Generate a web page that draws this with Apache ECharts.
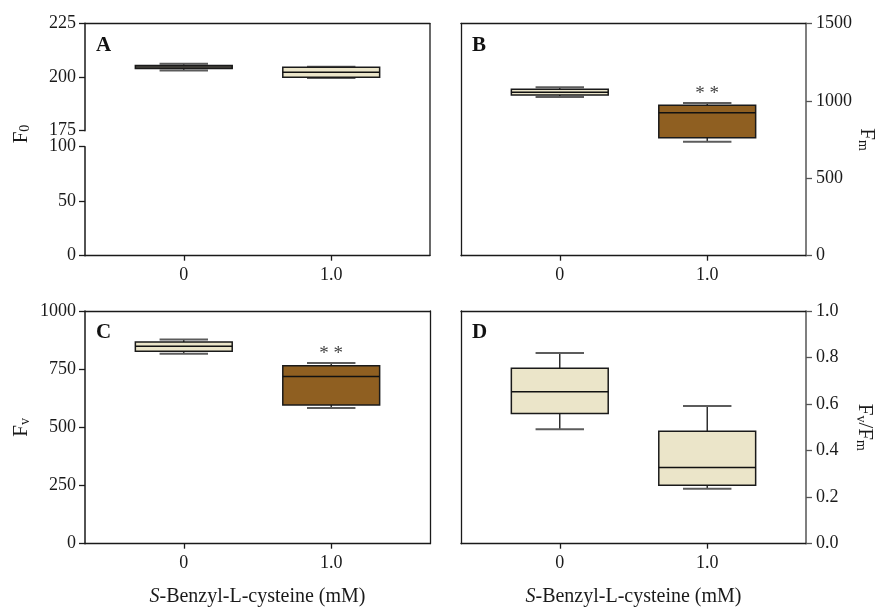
<!DOCTYPE html>
<html>
<head>
<meta charset="utf-8">
<script src="https://cdn.jsdelivr.net/npm/echarts@6/dist/echarts.min.js"></script>
<style>
html,body{margin:0;padding:0;background:#fff;}
#chart{width:885px;height:610px;}
</style>
</head>
<body>
<div id="chart"></div>
<script>
// ---------------- data ----------------
const xPositions = [0, 1];
const xTickLabels = ['0', '1.0'];

// Panel A: F0
const f0Min    = [203.0, 199.5];
const f0Q1     = [203.9, 199.9];
const f0Median = [204.7, 202.2];
const f0Q3     = [205.4, 204.5];
const f0Max    = [206.2, 204.8];
const f0Sig    = ['', ''];

// Panel B: Fm
const fmMin    = [1024, 736];
const fmQ1     = [1037, 762];
const fmMedian = [1055, 923];
const fmQ3     = [1074, 971];
const fmMax    = [1087, 986];
const fmSig    = ['', '* *'];

// Panel C: Fv
const fvMin    = [816, 583];
const fvQ1     = [827, 596];
const fvMedian = [848, 719];
const fvQ3     = [867, 765];
const fvMax    = [878, 776];
const fvSig    = ['', '* *'];

// Panel D: Fv/Fm
const ratioMin    = [0.492, 0.236];
const ratioQ1     = [0.560, 0.251];
const ratioMedian = [0.653, 0.327];
const ratioQ3     = [0.754, 0.483];
const ratioMax    = [0.820, 0.592];
const ratioSig    = ['', ''];

const xTitle = '{i|S}-Benzyl-L-cysteine (mM)';

// ---------------- styles ----------------
const BEIGE = '#EBE5C9';
const BROWN = '#8F5F21';
const f0Fill = [BEIGE, BEIGE];
const fmFill = [BEIGE, BROWN];
const fvFill = [BEIGE, BROWN];
const ratioFill = [BEIGE, BEIGE];
const FONT = 'Liberation Serif';
const BOX_W = 0.657;
const X_MIN = -0.67, X_MAX = 1.67;

function rows(mn, q1, md, q3, mx) {
  return xPositions.map((x, i) => [x, mn[i], q1[i], md[i], q3[i], mx[i]]);
}

function makeRender(fills, sig) {
  return function (params, api) {
    const i = params.dataIndex;
    const x = api.value(0);
    const w = api.size([BOX_W, 0])[0];
    const c = api.coord([x, api.value(3)]);
    const cx = c[0];
    const yMin = api.coord([x, api.value(1)])[1];
    const yQ1 = api.coord([x, api.value(2)])[1];
    const yMed = c[1];
    const yQ3 = api.coord([x, api.value(4)])[1];
    const yMax = api.coord([x, api.value(5)])[1];
    const L = cx - w / 2, capL = cx - w / 4, capR = cx + w / 4;
    const children = [
      {type: 'line', shape: {x1: cx, y1: yMax, x2: cx, y2: yQ3}, style: {stroke: '#111', lineWidth: 1.3}},
      {type: 'line', shape: {x1: cx, y1: yQ1, x2: cx, y2: yMin}, style: {stroke: '#111', lineWidth: 1.3}},
      {type: 'line', shape: {x1: capL, y1: yMax, x2: capR, y2: yMax}, style: {stroke: '#5c5c5c', lineWidth: 2}},
      {type: 'line', shape: {x1: capL, y1: yMin, x2: capR, y2: yMin}, style: {stroke: '#5c5c5c', lineWidth: 2}},
      {type: 'rect', shape: {x: L, y: yQ3, width: w, height: Math.max(yQ1 - yQ3, 1)},
        style: {fill: fills[i], stroke: '#1a1a1a', lineWidth: 1.5}},
      {type: 'line', shape: {x1: L, y1: yMed, x2: L + w, y2: yMed}, style: {stroke: '#111', lineWidth: 1.5}}
    ];
    if (sig[i]) {
      children.push({type: 'text', x: cx, y: yMax - 9,
        style: {text: sig[i], fill: '#444', font: '19px ' + FONT, align: 'center', verticalAlign: 'middle'}});
    }
    return {type: 'group', children};
  };
}

const labelStyle = {fontFamily: FONT, fontSize: 18, color: '#1a1a1a'};
const subRich = {
  sub: {fontFamily: FONT, fontSize: 14, color: '#1a1a1a', verticalAlign: 'bottom', padding: [8, 0, 0, 0]}
};

function xAxisMain(gridIndex, withName) {
  return {
    type: 'value', gridIndex, min: X_MIN, max: X_MAX,
    splitLine: {show: false},
    axisLine: {show: true, onZero: false, lineStyle: {color: '#1a1a1a', width: 1.3}},
    axisTick: {show: true, customValues: xPositions, length: 5, lineStyle: {color: '#1a1a1a', width: 1.3}},
    axisLabel: Object.assign({customValues: xPositions, margin: 11,
      formatter: v => xTickLabels[xPositions.indexOf(v)]}, labelStyle),
    name: withName ? xTitle : '',
    nameLocation: 'middle', nameGap: 43,
    nameTextStyle: {fontFamily: FONT, fontSize: 20, color: '#1a1a1a',
      rich: {i: {fontFamily: FONT, fontSize: 20, fontStyle: 'italic', color: '#1a1a1a'}}}
  };
}
function xAxisTop(gridIndex) {
  return {type: 'value', gridIndex, position: 'top', min: X_MIN, max: X_MAX,
    splitLine: {show: false}, axisTick: {show: false}, axisLabel: {show: false},
    axisLine: {show: true, onZero: false, lineStyle: {color: '#1a1a1a', width: 1.3}}};
}
function xAxisHidden(gridIndex) {
  return {type: 'value', gridIndex, min: X_MIN, max: X_MAX, show: false, splitLine: {show: false}};
}
function yAxisMain(gridIndex, pos, min, max, interval, fmt, name, nameGap, lineColor) {
  return {
    type: 'value', gridIndex, position: pos, min, max, interval,
    splitLine: {show: false},
    axisLine: {show: true, onZero: false, lineStyle: {color: lineColor, width: 1.5}},
    axisTick: {show: true, length: 6, lineStyle: {color: lineColor, width: 1.3}},
    axisLabel: Object.assign({margin: pos === 'left' ? 9 : 10, formatter: fmt}, labelStyle),
    name: name || '', nameLocation: 'middle', nameGap: nameGap || 0,
    nameRotate: pos === 'left' ? 90 : -90,
    nameTextStyle: {fontFamily: FONT, fontSize: 21, color: '#1a1a1a', rich: subRich}
  };
}
function yAxisBorder(gridIndex, pos, min, max) {
  return {type: 'value', gridIndex, position: pos, min, max,
    splitLine: {show: false}, axisTick: {show: false}, axisLabel: {show: false},
    axisLine: {show: true, onZero: false, lineStyle: {color: '#1a1a1a', width: 1.3}}};
}

const option = {
  animation: false,
  backgroundColor: '#fff',
  grid: [
    {left: 85, right: 455, top: 23.3, height: 107.4},   // 0 A upper
    {left: 85, right: 455, top: 146.7, height: 109},    // 1 A lower
    {left: 461, right: 79, top: 23.3, height: 232.4},   // 2 B
    {left: 85, right: 455, top: 311, height: 232.7},    // 3 C
    {left: 461, right: 79, top: 311, height: 232.7}     // 4 D
  ],
  xAxis: [
    xAxisHidden(0),           // 0
    xAxisTop(0),              // 1
    xAxisMain(1, false),      // 2
    xAxisMain(2, false),      // 3
    xAxisTop(2),              // 4
    xAxisMain(3, true),       // 5
    xAxisTop(3),              // 6
    xAxisMain(4, true),       // 7
    xAxisTop(4)               // 8
  ],
  yAxis: [
    yAxisMain(0, 'left', 175, 225, 25, v => String(v), '', 0, '#1a1a1a'),       // 0
    yAxisMain(1, 'left', 0, 100, 50, v => String(v), '', 0, '#1a1a1a'),         // 1
    yAxisMain(2, 'right', 0, 1500, 500, v => String(v), 'F{sub|m}', 50, '#555'),  // 2
    yAxisBorder(2, 'left', 0, 1500),                                           // 3
    yAxisMain(3, 'left', 0, 1000, 250, v => String(v), 'F{sub|v}', 53, '#1a1a1a'),// 4
    yAxisBorder(3, 'right', 0, 1000),                                          // 5
    yAxisMain(4, 'right', 0, 1, 0.2, v => v.toFixed(1), 'F{sub|v}/F{sub|m}', 48, '#555'), // 6
    yAxisBorder(4, 'left', 0, 1)                                               // 7
  ],
  series: [
    {type: 'custom', xAxisIndex: 0, yAxisIndex: 0, data: rows(f0Min, f0Q1, f0Median, f0Q3, f0Max),
      encode: {x: 0, y: [1, 2, 3, 4, 5]}, renderItem: makeRender(f0Fill, f0Sig), clip: false},
    {type: 'custom', xAxisIndex: 3, yAxisIndex: 2, data: rows(fmMin, fmQ1, fmMedian, fmQ3, fmMax),
      encode: {x: 0, y: [1, 2, 3, 4, 5]}, renderItem: makeRender(fmFill, fmSig), clip: false},
    {type: 'custom', xAxisIndex: 5, yAxisIndex: 4, data: rows(fvMin, fvQ1, fvMedian, fvQ3, fvMax),
      encode: {x: 0, y: [1, 2, 3, 4, 5]}, renderItem: makeRender(fvFill, fvSig), clip: false},
    {type: 'custom', xAxisIndex: 7, yAxisIndex: 6, data: rows(ratioMin, ratioQ1, ratioMedian, ratioQ3, ratioMax),
      encode: {x: 0, y: [1, 2, 3, 4, 5]}, renderItem: makeRender(ratioFill, ratioSig), clip: false}
  ],
  graphic: [
    // right border of panel A (spans the broken axis gap)
    {type: 'line', shape: {x1: 430, y1: 23.3, x2: 430, y2: 255.7}, style: {stroke: '#1a1a1a', lineWidth: 1.3}, z: 10},
    // F0 axis title
    {type: 'text', x: 21, y: 134, rotation: Math.PI / 2,
      style: {text: 'F{sub|0}', font: '21px ' + FONT, fill: '#1a1a1a', align: 'center', verticalAlign: 'middle',
        rich: {sub: {font: '14px ' + FONT, fill: '#1a1a1a', verticalAlign: 'bottom', padding: [8, 0, 0, 0]}}}},
    // panel letters
    {type: 'text', x: 96, y: 35, style: {text: 'A', font: 'bold 21px ' + FONT, fill: '#111'}},
    {type: 'text', x: 472, y: 35, style: {text: 'B', font: 'bold 21px ' + FONT, fill: '#111'}},
    {type: 'text', x: 96, y: 322, style: {text: 'C', font: 'bold 21px ' + FONT, fill: '#111'}},
    {type: 'text', x: 472, y: 322, style: {text: 'D', font: 'bold 21px ' + FONT, fill: '#111'}}
  ]
};

const chart = echarts.init(document.getElementById('chart'), null, {renderer: 'canvas'});
chart.setOption(option);
</script>
</body>
</html>
